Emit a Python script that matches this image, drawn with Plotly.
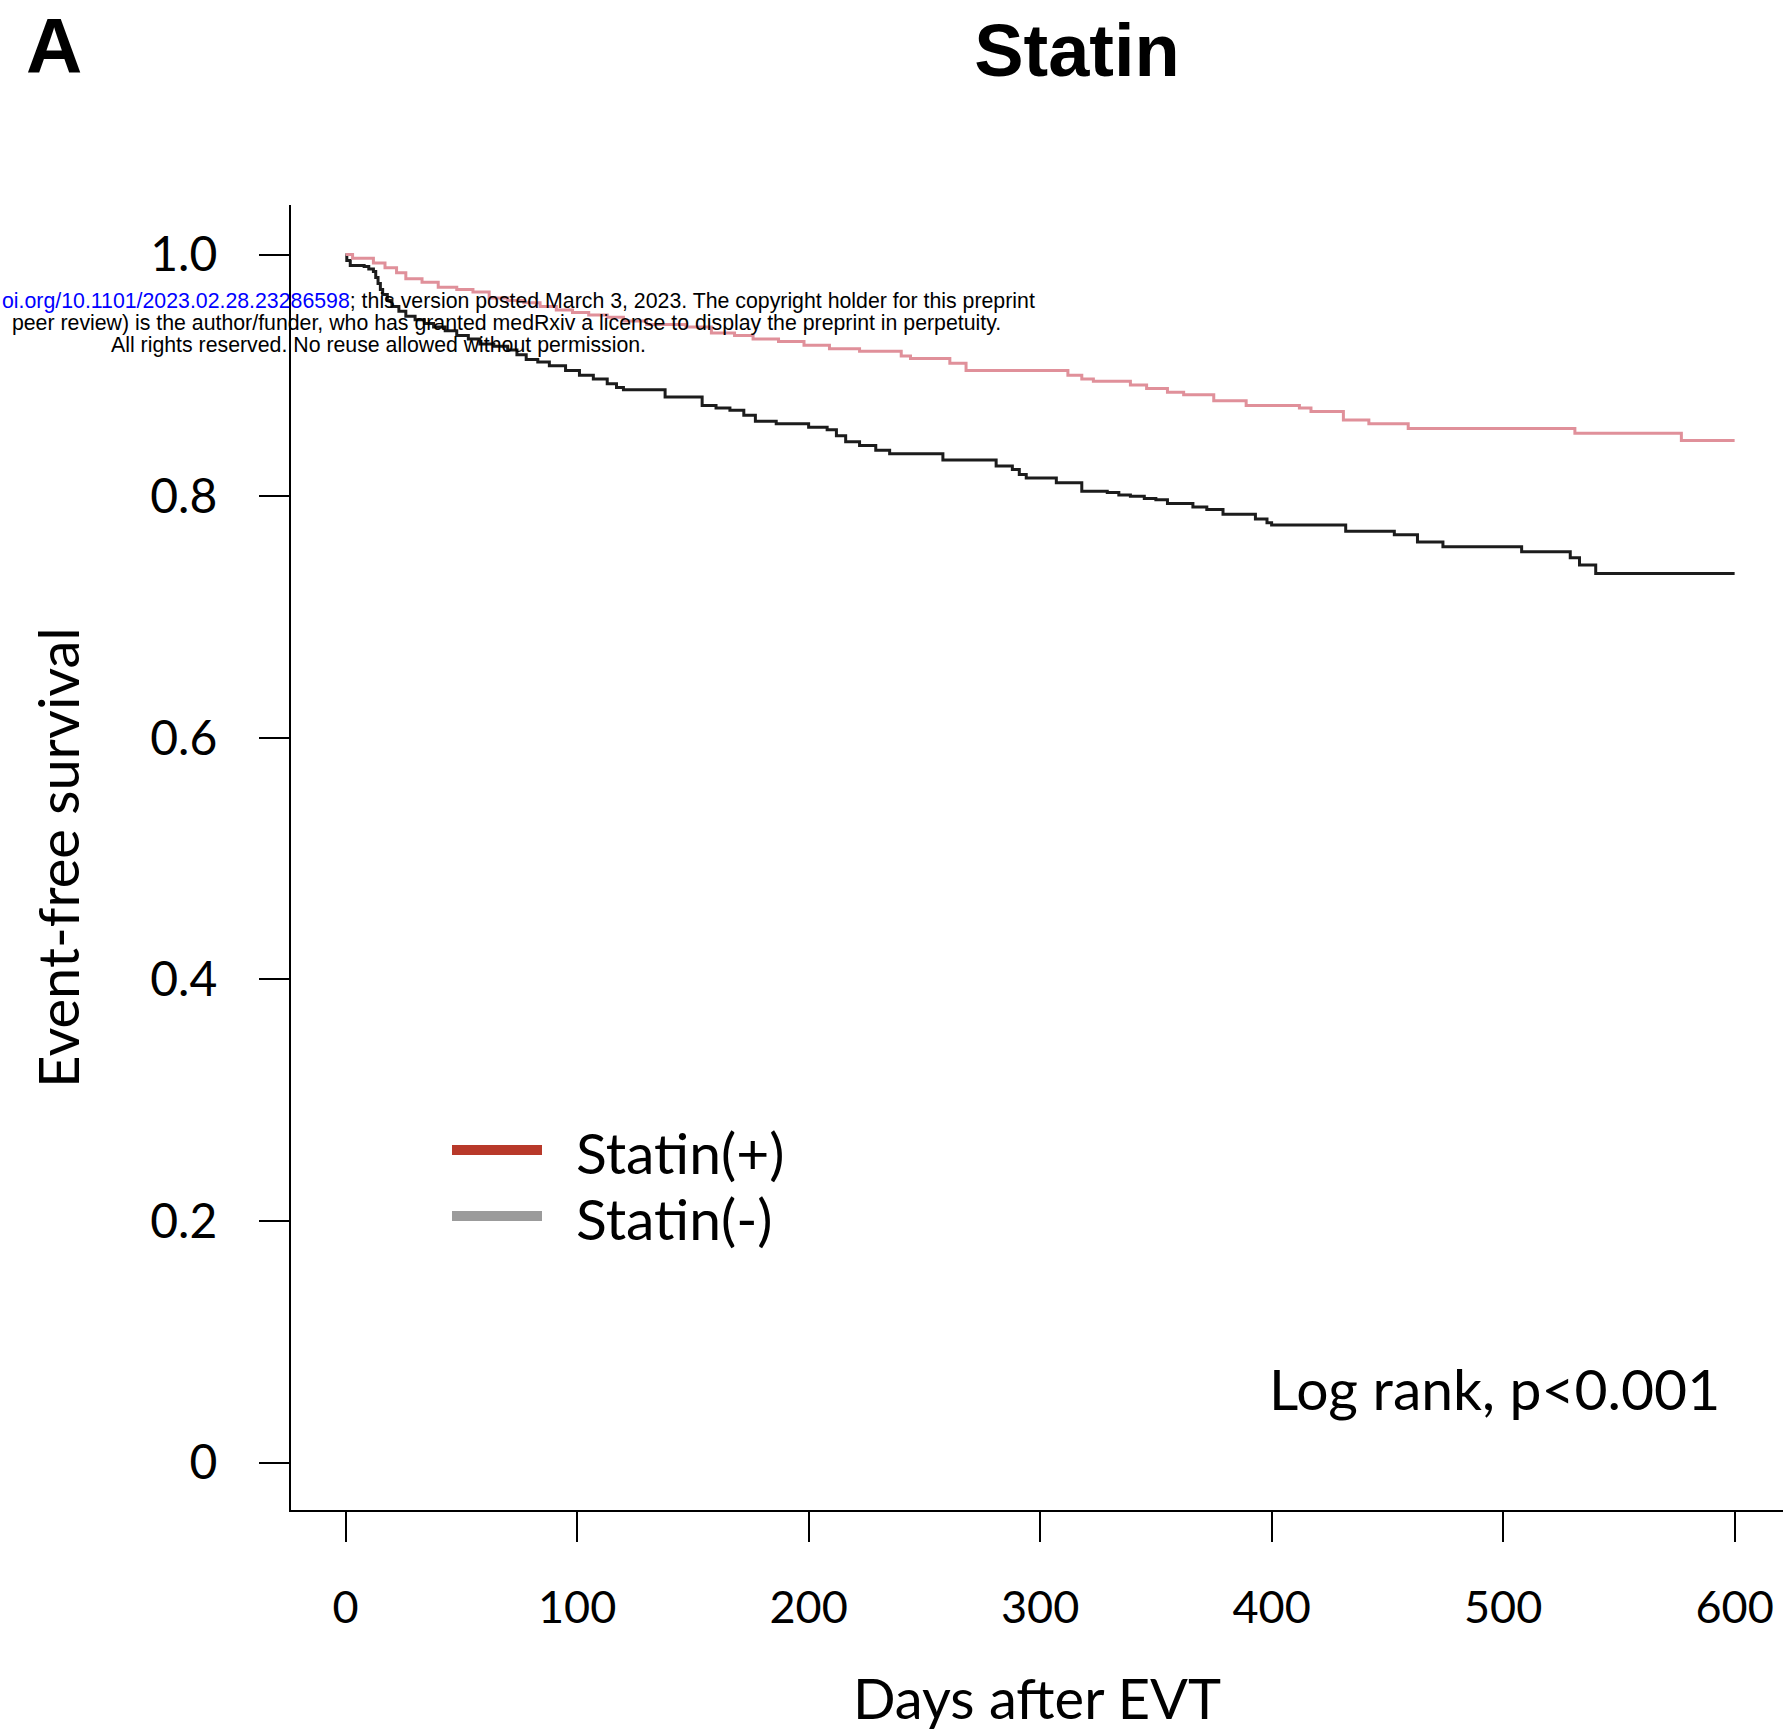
import plotly.graph_objects as go

W, H = 1783, 1734

# ---------------- data ----------------
days_statin_pos = [0, 3, 12, 17, 22, 26, 33, 40, 48, 55,
                   62, 70, 77, 84, 91, 98, 105, 113, 120, 130,
                   147, 158, 168, 176, 187, 198, 209, 222, 240, 244,
                   261, 268, 312, 318, 323, 339, 346, 355, 362, 375,
                   389, 412, 417, 431, 442, 459, 531, 577, 600]
surv_statin_pos = [1.0, 0.997, 0.993, 0.989, 0.985, 0.980, 0.977, 0.973, 0.971, 0.969,
                   0.964, 0.962, 0.960, 0.957, 0.954, 0.952, 0.950, 0.948, 0.945, 0.942,
                   0.940, 0.935, 0.933, 0.930, 0.928, 0.925, 0.922, 0.920, 0.916, 0.914,
                   0.910, 0.904, 0.900, 0.897, 0.895, 0.892, 0.889, 0.886, 0.884, 0.879,
                   0.875, 0.873, 0.870, 0.863, 0.860, 0.856, 0.852, 0.846, 0.846]

days_statin_neg = [0, 0.5, 2, 8, 10, 12, 13, 14, 15, 16,
                   18, 20, 23, 26, 30, 34, 38, 43, 48, 53,
                   58, 64, 70, 74, 78, 83, 88, 95, 101, 107,
                   113, 117, 120, 138, 154, 160, 166, 172, 177, 186,
                   200, 208, 212, 216, 222, 229, 235, 258, 281, 288,
                   291, 294, 307, 318, 329, 334, 339, 345, 350, 355,
                   366, 372, 379, 393, 398, 400, 432, 453, 463, 474,
                   508, 529, 533, 540, 600]
surv_statin_neg = [1.0, 0.995, 0.991, 0.990, 0.988, 0.986, 0.981, 0.976, 0.971, 0.967,
                   0.962, 0.957, 0.953, 0.949, 0.946, 0.943, 0.940, 0.937, 0.933, 0.930,
                   0.926, 0.924, 0.921, 0.917, 0.913, 0.911, 0.908, 0.904, 0.900, 0.897,
                   0.893, 0.890, 0.888, 0.882, 0.875, 0.873, 0.871, 0.867, 0.862, 0.860,
                   0.857, 0.855, 0.850, 0.845, 0.842, 0.838, 0.835, 0.830, 0.825, 0.822,
                   0.818, 0.815, 0.811, 0.804, 0.803, 0.801, 0.800, 0.798, 0.797, 0.794,
                   0.791, 0.789, 0.785, 0.781, 0.778, 0.776, 0.771, 0.768, 0.762, 0.758,
                   0.754, 0.749, 0.743, 0.736, 0.736]

x_ticks = [0, 100, 200, 300, 400, 500, 600]
y_ticks = [0, 0.2, 0.4, 0.6, 0.8, 1.0]
y_tick_labels = ["0", "0.2", "0.4", "0.6", "0.8", "1.0"]
series_names = ["Statin(+)", "Statin(-)"]

# ---------------- styling ----------------
FONT = "Lato, 'Noto Sans', sans-serif"
CURVE_POS = "#e0909a"
CURVE_NEG = "#1c1c1c"
LEG_POS = "#b8392a"
LEG_NEG = "#9b9b9b"


def px(x):
    return x / W


def py(y):
    return 1 - y / H


fig = go.Figure()
fig.add_trace(go.Scatter(x=days_statin_neg, y=surv_statin_neg, mode="lines",
                         line=dict(color=CURVE_NEG, width=3, shape="hv"),
                         name=series_names[1], showlegend=False))
fig.add_trace(go.Scatter(x=days_statin_pos, y=surv_statin_pos, mode="lines",
                         line=dict(color=CURVE_POS, width=3, shape="hv"),
                         name=series_names[0], showlegend=False))

fig.update_layout(
    width=W, height=H,
    margin=dict(l=0, r=0, t=0, b=0, autoexpand=False),
    paper_bgcolor="white", plot_bgcolor="white",
    showlegend=False,
    title=dict(text="<b>Statin</b>", x=px(1077), y=py(50), xanchor="center", yanchor="middle",
               xref="container", yref="container",
               font=dict(family="'Liberation Sans', Arial, sans-serif", size=74, color="black")),
    xaxis=dict(domain=[px(291), 1], range=[-23.6, 620.9], showline=True, linecolor="black",
               linewidth=2.2, ticks="outside", ticklen=30, tickwidth=2, tickcolor="black",
               tickvals=x_ticks, showgrid=False, zeroline=False, ticklabelstandoff=27,
               tickfont=dict(family=FONT, size=45, color="black"),
               title=dict(text="Days after EVT", font=dict(family=FONT, size=56, color="black"),
                          standoff=48),
               automargin=False),
    yaxis=dict(domain=[224 / H, 1 - 205 / H], range=[-0.0393, 1.041], showline=True,
               linecolor="black", linewidth=2.2, ticks="outside", ticklen=30, tickwidth=2,
               tickcolor="black", tickvals=y_ticks, ticktext=y_tick_labels, showgrid=False,
               zeroline=False, ticklabelstandoff=32,
               tickfont=dict(family=FONT, size=48, color="black"),
               title=dict(text="Event-free survival", font=dict(family=FONT, size=56, color="black"),
                          standoff=53),
               automargin=False),
)

# custom legend (long thick keys as in the reference)
legend_rows = [(series_names[0], LEG_POS, 1150), (series_names[1], LEG_NEG, 1216)]
for name, col, yy in legend_rows:
    fig.add_shape(type="line", xref="paper", yref="paper", x0=px(452), x1=px(542),
                  y0=py(yy), y1=py(yy), line=dict(color=col, width=10))
    fig.add_annotation(text=name, xref="paper", yref="paper", x=px(574), y=py(yy + 2),
                       xanchor="left", yanchor="middle", showarrow=False,
                       font=dict(family=FONT, size=57, color="black"))

fig.add_annotation(text="Log rank, p<0.001", xref="paper", yref="paper", x=px(1267), y=py(1388),
                   xanchor="left", yanchor="middle", showarrow=False,
                   font=dict(family=FONT, size=57, color="black"))

fig.add_annotation(text="<b>A</b>", xref="paper", yref="paper", x=px(54), y=py(46),
                   xanchor="center", yanchor="middle", showarrow=False,
                   font=dict(family="'Liberation Sans', Arial, sans-serif", size=78, color="black"))

# medRxiv watermark
WM = dict(family="'Liberation Sans', Arial, sans-serif", size=21.3, color="black")
fig.add_annotation(text='<span style="color:#0000ff">oi.org/10.1101/2023.02.28.23286598</span>; '
                        'this version posted March 3, 2023. The copyright holder for this preprint',
                   xref="paper", yref="paper", x=0, y=py(301), xanchor="left", yanchor="middle",
                   showarrow=False, font=WM)
fig.add_annotation(text=" peer review) is the author/funder, who has granted medRxiv a license to display the preprint in perpetuity.",
                   xref="paper", yref="paper", x=px(4), y=py(323), xanchor="left", yanchor="middle",
                   showarrow=False, font=WM)
fig.add_annotation(text="All rights reserved. No reuse allowed without permission.",
                   xref="paper", yref="paper", x=px(109), y=py(345), xanchor="left", yanchor="middle",
                   showarrow=False, font=WM)

fig.write_html("out.html", config={"displayModeBar": False},
               post_script="document.body.style.margin='0';document.body.style.overflow='hidden';")
